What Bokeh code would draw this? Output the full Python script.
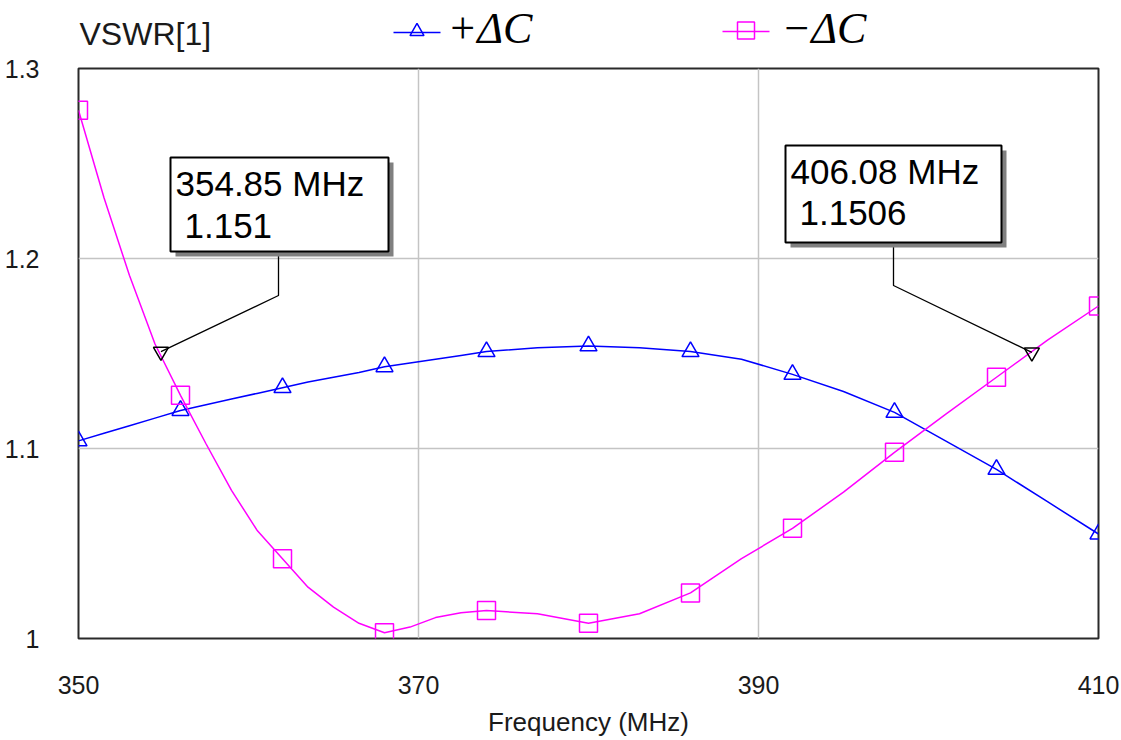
from bokeh.plotting import figure
from bokeh.layouts import column
from bokeh.models import Range1d, FixedTicker
from bokeh.embed import file_html
from bokeh.resources import INLINE
from bokeh.core.properties import value

# ---------------- data ----------------
freq = [350, 351.5, 353, 354.5, 356, 357.5, 359, 360.5, 362, 363.5, 365, 366.5, 368,
        369.5, 371, 372.5, 374, 377, 380, 383, 386, 389, 392, 395, 398, 401, 404, 407, 410]
plus_dc = [1.104, 1.108, 1.112, 1.116, 1.120, 1.123, 1.126, 1.129, 1.132, 1.135, 1.1375,
           1.140, 1.143, 1.145, 1.147, 1.149, 1.151, 1.153, 1.154, 1.153, 1.151, 1.147,
           1.139, 1.130, 1.119, 1.104, 1.089, 1.072, 1.055]
minus_dc = [1.278, 1.232, 1.191, 1.155, 1.128, 1.1025, 1.078, 1.057, 1.042, 1.027, 1.0165,
            1.008, 1.003, 1.006, 1.011, 1.0135, 1.0147, 1.013, 1.008, 1.013, 1.024, 1.042,
            1.058, 1.077, 1.098, 1.118, 1.1375, 1.157, 1.175]
mark_freq = [350, 356, 362, 368, 374, 380, 386, 392, 398, 404, 410]
marker_freq = [354.85, 406.08]
marker_vswr = [1.151, 1.1506]
x_ticks = [350, 370, 390, 410]
x_tick_labels = ["350", "370", "390", "410"]
y_ticks = [1.0, 1.1, 1.2, 1.3]
y_tick_labels = ["1", "1.1", "1.2", "1.3"]
series_labels = ["+\u0394C", "\u2212\u0394C"]
y_title = "VSWR[1]"
x_title = "Frequency (MHz)"

# ---------------- layout helpers (page pixels -> data) ----------------
XR = (350, 410)
YR = (1.0, 1.3)
FX0, FY0, FW, FH = 78, 68, 1020, 570
PAGE_W, PAGE_H = 1121, 740
HEAD_H = 54


def xd(px):
    return XR[0] + (px - FX0) * (XR[1] - XR[0]) / FW


def yd(py):
    return YR[0] + (FY0 + FH - py) * (YR[1] - YR[0]) / FH


def mid(baseline_px, size, k=0.3465):
    # y of the text middle for a wanted baseline (page pixels, y down)
    return baseline_px - k * size


BLUE = "#0000ff"
MAGENTA = "#ff00ff"
FONT = "Liberation Sans"
SERIF = "Liberation Serif"
TXT = "#1a1a1a"

# ---------------- header (y title + legend) ----------------
h = figure(width=PAGE_W, height=HEAD_H, x_range=Range1d(*XR), y_range=Range1d(HEAD_H, 0),
           output_backend="svg", toolbar_location=None, x_axis_type=None, y_axis_type=None,
           min_border_left=FX0, min_border_right=PAGE_W - FX0 - FW,
           min_border_top=0, min_border_bottom=0)
h.outline_line_color = None
h.background_fill_color = "white"
h.border_fill_color = "white"

h.text(x=[xd(79)], y=[mid(45, 32)], text=[y_title], text_font=value(FONT),
       text_font_size="32px", text_color=TXT, text_baseline="middle", text_align="left")

legend_items = [  # line x0, x1, y, text x, colour, marker, marker size (page px)
    (393, 440, 32, 447, BLUE, "triangle", 14),
    (722, 769, 31, 781, MAGENTA, "square", 17),
]
for (x0, x1, ly, tx, col, mk, ms_), lab in zip(legend_items, series_labels):
    h.line([xd(x0), xd(x1)], [ly, ly], line_color=col, line_width=1.5)
    h.scatter([xd((x0 + x1) / 2)], [ly - 1], marker=mk, size=ms_, line_color=col,
              fill_color=None, line_width=1.5)
    h.text(x=[xd(tx)], y=[mid(43, 44, 0.3375)], text=[lab], text_font=value(SERIF),
           text_font_style="italic", text_font_size="44px", text_color="black",
           text_baseline="middle", text_align="left")

# ---------------- main plot ----------------
MAIN_H = PAGE_H - HEAD_H
TOP = FY0 - HEAD_H
p = figure(width=PAGE_W, height=MAIN_H, x_range=Range1d(*XR), y_range=Range1d(*YR),
           output_backend="svg", toolbar_location=None,
           min_border_left=FX0, min_border_right=PAGE_W - FX0 - FW,
           min_border_top=TOP, min_border_bottom=MAIN_H - TOP - FH)
p.background_fill_color = "white"
p.border_fill_color = "white"
p.outline_line_color = "#2a2a2a"
p.outline_line_width = 2

for ax, ticks, labels in ((p.xaxis, x_ticks, x_tick_labels), (p.yaxis, y_ticks, y_tick_labels)):
    ax.ticker = FixedTicker(ticks=ticks)
    ax.major_label_overrides = dict(zip(ticks, labels))
    ax.axis_line_color = None
    ax.major_tick_line_color = None
    ax.minor_tick_line_color = None
    ax.major_label_text_font = FONT
    ax.major_label_text_font_size = "25px"
    ax.major_label_text_color = TXT

p.xaxis.major_label_standoff = 31
p.yaxis.major_label_standoff = 33
p.xaxis.axis_label = x_title
p.xaxis.axis_label_text_font = FONT
p.xaxis.axis_label_text_font_size = "26px"
p.xaxis.axis_label_text_font_style = "normal"
p.xaxis.axis_label_text_color = TXT
p.xaxis.axis_label_standoff = 10

p.grid.grid_line_color = "#c4c4c4"
p.grid.grid_line_width = 1.5

# series
idx = [freq.index(f) for f in mark_freq]
p.line(freq, plus_dc, line_color=BLUE, line_width=1.5)
p.scatter(mark_freq, [plus_dc[i] for i in idx], marker="triangle", size=17,
          line_color=BLUE, fill_color=None, line_width=1.5)
p.line(freq, minus_dc, line_color=MAGENTA, line_width=1.5)
p.scatter(mark_freq, [minus_dc[i] for i in idx], marker="square", size=18,
          line_color=MAGENTA, fill_color=None, line_width=1.5)

# marker read-outs
boxes = [  # left, top, right, bottom, elbow x, elbow y, 2nd baseline (page px)
    (170, 157, 388, 251, 278, 295, 81),
    (785, 145, 1001, 242, 893, 285, 80),
]
for i, (l, t, r, b, ex, ey, b2) in enumerate(boxes):
    mx, my = marker_freq[i], marker_vswr[i]
    p.line([xd(ex), xd(ex), mx], [yd(b), yd(ey), my], line_color="black", line_width=1.3)
    p.quad(left=xd(l + 5), right=xd(r + 5), top=yd(t + 5), bottom=yd(b + 5),
           fill_color="#808080", line_color=None)
    p.quad(left=xd(l), right=xd(r), top=yd(t), bottom=yd(b),
           fill_color="white", line_color="black", line_width=2)
    p.text(x=[xd(l + 5)], y=[yd(mid(t + 38, 35))], text=[f"{mx} MHz"],
           text_font=value(FONT), text_font_size="35px", text_color="black",
           text_baseline="middle", text_align="left")
    p.text(x=[xd(l + 14)], y=[yd(mid(t + b2, 35))], text=[f"{my}"],
           text_font=value(FONT), text_font_size="35px", text_color="black",
           text_baseline="middle", text_align="left")

p.scatter(marker_freq, marker_vswr, marker="inverted_triangle", size=15,
          line_color="black", fill_color=None, line_width=1.5)

layout = column(h, p, spacing=0)
open("out.html", "w").write(file_html(layout, INLINE))
